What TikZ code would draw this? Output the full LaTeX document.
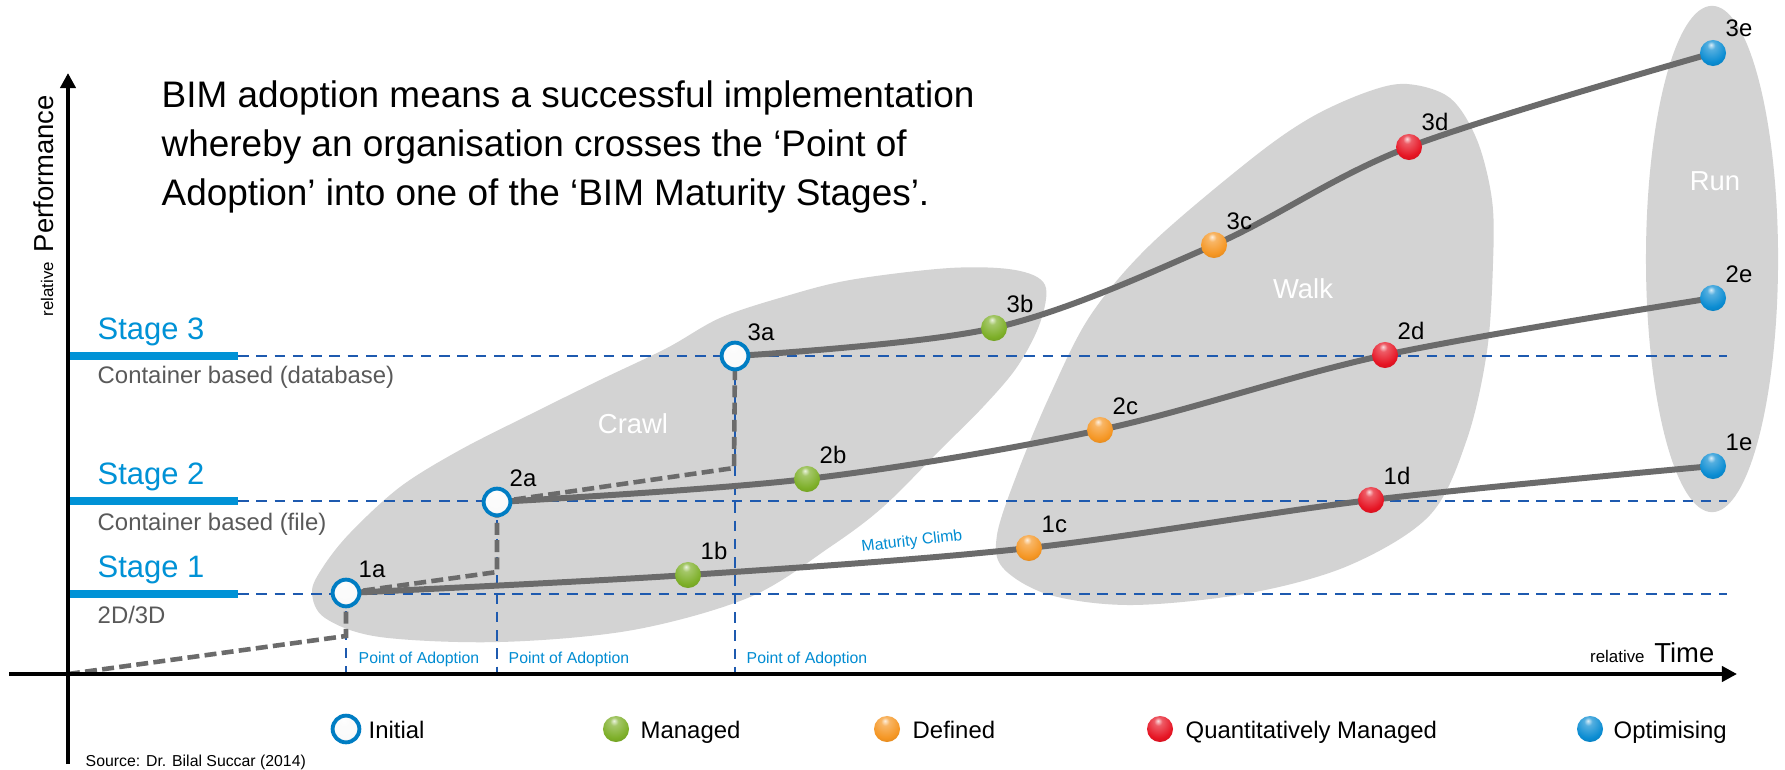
\documentclass[tikz,border=0pt]{standalone}
\usepackage{fontspec}
\setmainfont{Liberation Sans}
\usetikzlibrary{arrows.meta}
\definecolor{stageblue}{RGB}{0,146,214}
\definecolor{dashblue}{RGB}{30,90,175}
\definecolor{curvegray}{RGB}{107,107,107}
\definecolor{blobgray}{RGB}{211,211,211}
\definecolor{txtgray}{RGB}{89,89,89}
\definecolor{mgreen}{RGB}{125,175,40}
\definecolor{dorange}{RGB}{245,150,35}
\definecolor{qred}{RGB}{230,20,35}
\definecolor{oblue}{RGB}{10,140,210}
\definecolor{iring}{RGB}{0,125,195}
\definecolor{pearlwhite}{RGB}{250,250,250}
\definecolor{poablue}{RGB}{0,140,210}
\pgfdeclarelayer{blobs}
\pgfdeclarelayer{lines}
\pgfsetlayers{blobs,lines,main}
\makeatletter
\pgfdeclareradialshading[tikz@ball]{gloss}{\pgfqpoint{-4bp}{16bp}}{%
 color(0bp)=(tikz@ball!15!white); color(8bp)=(tikz@ball!70!white);
 color(28bp)=(tikz@ball); color(52bp)=(tikz@ball!72!black); color(80bp)=(tikz@ball!50!black)}
\makeatother
\begin{document}
\begin{tikzpicture}[x=0.01cm, y=-0.01cm,
  sphere/.style={circle, inner sep=0pt, minimum size=7.4pt},
  initball/.style={circle, inner sep=0pt, minimum size=7.6pt, ball color=pearlwhite, shading=gloss, draw=iring, line width=1.1pt},
  managed/.style={sphere, ball color=mgreen, shading=gloss},
  defined/.style={sphere, ball color=dorange, shading=gloss},
  qmanaged/.style={sphere, ball color=qred, shading=gloss},
  optimising/.style={sphere, ball color=oblue, shading=gloss},
  lab/.style={font=\fontsize{6.8}{8}\selectfont, anchor=base west, inner sep=0pt},
  legtext/.style={font=\fontsize{6.8}{8}\selectfont, anchor=base west, inner sep=0pt},
  stagetitle/.style={font=\fontsize{8.8}{10}\selectfont, text=stageblue, anchor=base west, inner sep=0pt},
  stagesub/.style={font=\fontsize{6.8}{8}\selectfont, text=txtgray, anchor=base west, inner sep=0pt},
  phase/.style={font=\fontsize{7.8}{9}\selectfont, text=white, inner sep=0pt},
  tinytext/.style={font=\fontsize{4.5}{5.5}\selectfont, inner sep=0pt},
  poa/.style={tinytext, text=poablue, anchor=base west},
  axisline/.style={line width=1.28pt, -{Triangle[length=4.3pt,width=4.3pt]}},
  stagebar/.style={line width=2.2pt, stageblue},
  bluedash/.style={line width=0.72pt, dashblue, dash pattern=on 3pt off 2.2pt},
  adopt/.style={line width=1.3pt, curvegray, dash pattern=on 3.4pt off 1.5pt},
  climb/.style={line width=1.7pt, curvegray},
  blob/.style={fill=blobgray}
]
\useasboundingbox (0,0) rectangle (1785,770);

% ---------- nodes (balls) ----------
\node[initball] (n1a) at (346,593) {};
\node[initball] (n2a) at (497,502) {};
\node[initball] (n3a) at (735,356) {};
\node[managed] (n1b) at (688,575) {};
\node[managed] (n2b) at (807,479) {};
\node[managed] (n3b) at (994,328) {};
\node[defined] (n1c) at (1029,548) {};
\node[defined] (n2c) at (1100,430) {};
\node[defined] (n3c) at (1214,245) {};
\node[qmanaged] (n1d) at (1371,500) {};
\node[qmanaged] (n2d) at (1385,355) {};
\node[qmanaged] (n3d) at (1409,147) {};
\node[optimising] (n1e) at (1713,466) {};
\node[optimising] (n2e) at (1713,298) {};
\node[optimising] (n3e) at (1713,53) {};

% labels
\foreach \n in {1a,2a,3a,1b,2b,3b,1c,2c,3c,1d,2d,3d,1e,2e,3e}
  \node[lab] (l\n) at ([shift={(12,-16)}]n\n.center) {\n};

% ---------- background blobs ----------
\begin{pgfonlayer}{blobs}
\fill[white] (0,0) rectangle (1785,770);
\fill[blob] plot[smooth cycle, tension=0.55] coordinates {
 (312,592) (323,567) (350,533) (400,487) (460,450) (533,413) (600,380) (667,348)
 (720,318) (783,297) (850,280) (950,268) (1015,270) (1045,285) (1040,323) (1017,367)
 (983,407) (940,450) (883,507) (830,547) (750,597) (633,630) (500,642) (380,637) (325,618)};
\fill[blob] plot[smooth cycle, tension=0.55] coordinates {
 (1407,84) (1450,98) (1477,140) (1492,200) (1493,263) (1487,351) (1467,439) (1430,515)
 (1350,565) (1250,593) (1133,605) (1050,595) (1003,568) (997,535) (1017,474) (1050,395)
 (1090,316) (1150,245) (1250,160) (1310,118) (1367,92)};
\fill[blob] (1712,259) ellipse [x radius=0.66cm, y radius=2.53cm];
\node[phase] (crawl) at (633,424) {Crawl};
\node[phase] (walk) at (1303,289) {Walk};
\node[phase] (run) at (1715,181) {Run};
\end{pgfonlayer}

% ---------- coordinates ----------
\coordinate (o) at (68,674);
\coordinate (ytop) at (68,73);
\coordinate (ybot) at (68,764);
\coordinate (xl) at (9,674);
\coordinate (xr) at (1737,674);
\coordinate (s1l) at (68,594);  \coordinate (s1m) at (238,594); \coordinate (s1r) at (1727,594);
\coordinate (s2l) at (68,501);  \coordinate (s2m) at (238,501); \coordinate (s2r) at (1727,501);
\coordinate (s3l) at (68,356);  \coordinate (s3m) at (238,356); \coordinate (s3r) at (1727,356);
\coordinate (p1) at (346,636);
\coordinate (p2) at (497,572);
\coordinate (p3) at (734,468);

\begin{pgfonlayer}{lines}
% stage lines
\draw[bluedash] (s1m) -- (s1r);
\draw[bluedash] (s2m) -- (s2r);
\draw[bluedash] (s3m) -- (s3r);
\draw[bluedash] (n1a.center) -- (n1a.center |- o);
\draw[bluedash] (n2a.center) -- (n2a.center |- o);
\draw[bluedash] (n3a.center) -- (n3a.center |- o);
\draw[stagebar] (s1l) -- (s1m);
\draw[stagebar] (s2l) -- (s2m);
\draw[stagebar] (s3l) -- (s3m);
% adoption path
\draw[adopt] (o) -- (p1) -- (n1a.center);
\draw[adopt] (n1a.center) -- (p2) -- (n2a.center);
\draw[adopt] (n2a.center) -- (p3) -- (n3a.center);
% maturity curves
\draw[climb] plot[smooth, tension=0.55] coordinates {(n1a.center) (n1b.center) (n1c.center) (n1d.center) (n1e.center)};
\draw[climb] plot[smooth, tension=0.55] coordinates {(n2a.center) (n2b.center) (n2c.center) (n2d.center) (n2e.center)};
\draw[climb] plot[smooth, tension=0.55] coordinates {(n3a.center) (n3b.center) (n3c.center) (n3d.center) (n3e.center)};
% axes
\draw[axisline] (ybot) -- (ytop);
\draw[axisline] (xl) -- (xr);
\end{pgfonlayer}

% ---------- texts ----------
\node[anchor=north west, inner sep=0pt, align=left, font=\fontsize{10.5}{13.95}\selectfont] (headline) at (161,80)
 {BIM adoption means a successful implementation\\whereby an organisation crosses the ‘Point of\\Adoption’ into one of the ‘BIM Maturity Stages’.};

\node[stagetitle] (st3) at (97,339) {Stage 3};
\node[stagesub] (ss3) at (97,383) {Container based (database)};
\node[stagetitle] (st2) at (97,484) {Stage 2};
\node[stagesub] (ss2) at (97,530) {Container based (file)};
\node[stagetitle] (st1) at (97,577) {Stage 1};
\node[stagesub] (ss1) at (97,623) {2D/3D};

\node[poa] (poa1) at (358,663) {Point of Adoption};
\node[poa] (poa2) at (508,663) {Point of Adoption};
\node[poa] (poa3) at (746,663) {Point of Adoption};
\node[tinytext, text=poablue, rotate=6.5] (mc) at (912,542) {Maturity Climb};

\node[rotate=90, anchor=base west, inner sep=0pt] (ylab) at (53,317)
 {{\fontsize{4.8}{6}\selectfont relative} {\fontsize{7.8}{9}\selectfont Performance}};
\node[anchor=base east, inner sep=0pt] (xlab) at (1715,662)
 {{\fontsize{4.8}{6}\selectfont relative} {\fontsize{7.8}{9}\selectfont Time}};

\node[tinytext, anchor=base west] (src) at (85,766) {Source: Dr. Bilal Succar (2014)};

% ---------- legend ----------
\node[initball] (g1) at (346,729) {};
\node[legtext] (t1) at (368,738) {Initial};
\node[managed] (g2) at (616,729) {};
\node[legtext] (t2) at (640,738) {Managed};
\node[defined] (g3) at (887,729) {};
\node[legtext] (t3) at (912,738) {Defined};
\node[qmanaged] (g4) at (1160,729) {};
\node[legtext] (t4) at (1185,738) {Quantitatively Managed};
\node[optimising] (g5) at (1590,729) {};
\node[legtext] (t5) at (1613,738) {Optimising};
\end{tikzpicture}
\end{document}
